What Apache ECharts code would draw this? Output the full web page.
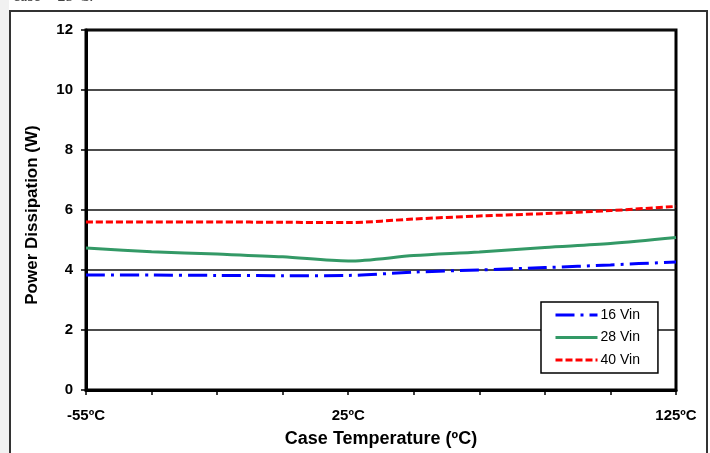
<!DOCTYPE html>
<html>
<head>
<meta charset="utf-8">
<script src="https://cdn.jsdelivr.net/npm/echarts@6/dist/echarts.min.js"></script>
<style>
html,body{margin:0;padding:0;background:#fff;}
#chart{width:710px;height:453px;}
</style>
</head>
<body>
<div id="chart"></div>
<script>
// Data
var temperatures = ['-55ºC','-35ºC','-15ºC','5ºC','25ºC','45ºC','65ºC','85ºC','105ºC','125ºC'];
var labeledTemps = ['-55ºC','25ºC','125ºC'];
var seriesNames = ['16 Vin','28 Vin','40 Vin'];
var vin16 = [3.83, 3.83, 3.82, 3.81, 3.82, 3.93, 4.00, 4.08, 4.17, 4.27];
var vin28 = [4.73, 4.61, 4.53, 4.44, 4.30, 4.48, 4.60, 4.75, 4.88, 5.08];
var vin40 = [5.60, 5.60, 5.60, 5.59, 5.58, 5.70, 5.80, 5.88, 5.98, 6.12];
var yTicks = [0, 2, 4, 6, 8, 10, 12];

var FONT = 'Arial, "Liberation Sans", sans-serif';
var chart = echarts.init(document.getElementById('chart'));
chart.setOption({
  animation: false,
  backgroundColor: '#fff',
  textStyle: {fontFamily: FONT},
  graphic: [
    {type: 'rect', shape: {x: 0, y: 0, width: 9, height: 453}, style: {fill: '#f1f1f1'}, silent: true, z: -1},
    {type: 'rect', shape: {x: 10, y: 11, width: 697, height: 470}, style: {fill: 'none', stroke: '#333', lineWidth: 2}, silent: true},
    {type: 'text', left: 13, top: -11, style: {text: 'case = 25ºC.', font: '16px "Liberation Serif", serif', fill: '#444'}, silent: true}
  ],
  grid: {left: 86, top: 30, right: 34, bottom: 63, outerBoundsMode: 'none', containLabel: false,
         show: true, borderColor: '#000', borderWidth: 3, backgroundColor: 'transparent'},
  legend: {
    data: seriesNames,
    orient: 'vertical',
    left: 541, top: 302,
    padding: [6, 18, 6, 13],
    itemGap: 8.5,
    itemWidth: 42, itemHeight: 14,
    backgroundColor: '#fff',
    borderColor: '#000', borderWidth: 1.5,
    itemStyle: {opacity: 0},
    lineStyle: {width: 3},
    textStyle: {fontSize: 14, color: '#000', fontFamily: FONT, padding: [0,0,0,-2]}
  },
  xAxis: {
    type: 'category',
    data: temperatures,
    boundaryGap: false,
    name: 'Case Temperature (ºC)',
    nameLocation: 'middle',
    nameGap: 40,
    nameTextStyle: {fontSize: 18, fontWeight: 'bold', color: '#000', fontFamily: FONT},
    axisLine: {lineStyle: {color: '#000', width: 3}},
    axisTick: {show: true, interval: 0, length: 5, lineStyle: {color: '#000', width: 1.5}},
    axisLabel: {
      interval: 0, margin: 18, fontSize: 15, fontWeight: 'bold', color: '#000', fontFamily: FONT,
      formatter: function (v) { return labeledTemps.indexOf(v) >= 0 ? v : ''; }
    },
    splitLine: {show: false}
  },
  yAxis: {
    type: 'value',
    min: yTicks[0], max: yTicks[yTicks.length - 1], interval: 2,
    name: 'Power Dissipation (W)',
    nameLocation: 'middle',
    nameGap: 45,
    nameTextStyle: {fontSize: 17, fontWeight: 'bold', color: '#000', fontFamily: FONT, padding: [0, 10, 0, 0]},
    axisLine: {show: true, lineStyle: {color: '#000', width: 3}},
    axisTick: {show: true, length: 5, lineStyle: {color: '#000', width: 1.5}},
    axisLabel: {margin: 13, fontSize: 15, fontWeight: 'bold', color: '#000', fontFamily: FONT},
    splitLine: {show: true, lineStyle: {color: '#111', width: 1.5}}
  },
  series: [
    {name: seriesNames[0], type: 'line', data: vin16, symbol: 'none', smooth: 0.3,
     lineStyle: {color: '#0000ff', width: 3, type: [19, 6, 3, 6]}, itemStyle: {color: '#0000ff'}},
    {name: seriesNames[1], type: 'line', data: vin28, symbol: 'none', smooth: 0.3,
     lineStyle: {color: '#339966', width: 3, type: 'solid'}, itemStyle: {color: '#339966'}},
    {name: seriesNames[2], type: 'line', data: vin40, symbol: 'none', smooth: 0.3,
     lineStyle: {color: '#ff0000', width: 3, type: [7, 3]}, itemStyle: {color: '#ff0000'}}
  ]
});
</script>
</body>
</html>
